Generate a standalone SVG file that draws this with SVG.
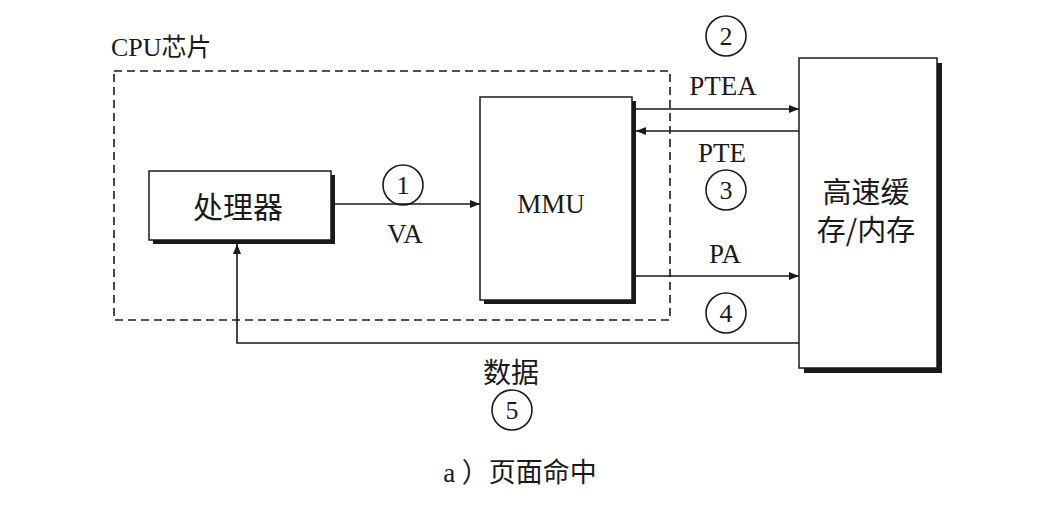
<svg xmlns="http://www.w3.org/2000/svg" width="1040" height="510" viewBox="0 0 1040 510">
<style>
.t{font-family:"Liberation Serif","Noto Sans CJK SC",serif;fill:#1a1a1a;text-anchor:middle}
.c{font-family:"Noto Sans CJK SC",sans-serif;fill:#1a1a1a;text-anchor:middle}
.box{fill:#fff;stroke:#1a1a1a;stroke-width:1.5}
.sh{fill:#1a1a1a}
.ln{fill:none;stroke:#1a1a1a;stroke-width:1.6}
.circ{fill:none;stroke:#1a1a1a;stroke-width:1.6}
</style>
<defs>
<marker id="ah" viewBox="0 0 10 8" refX="10" refY="4" markerWidth="10" markerHeight="8" markerUnits="userSpaceOnUse" orient="auto">
<path d="M0,0 L10,4 L0,8 Z" fill="#1a1a1a"/>
</marker>
</defs>
<rect width="1040" height="510" fill="#fff"/>
<g id="cpu-chip">
<rect x="114" y="71" width="556" height="249" fill="none" stroke="#1a1a1a" stroke-width="1.6" stroke-dasharray="8,5"/>
<text class="t" x="111" y="56" font-size="26" style="text-anchor:start">CPU<tspan font-family="Noto Sans CJK SC" font-size="25">芯片</tspan></text>
</g>
<g id="processor">
<rect class="sh" x="153" y="175" width="182" height="69"/>
<rect class="box" x="149" y="171" width="182" height="69"/>
<text class="c" x="238" y="218" font-size="30">处理器</text>
</g>
<g id="mmu">
<rect class="sh" x="484" y="101" width="152" height="203"/>
<rect class="box" x="480" y="97" width="152" height="203"/>
<text class="t" x="551" y="213" font-size="27">MMU</text>
</g>
<g id="memory">
<rect class="sh" x="804" y="63" width="138" height="310"/>
<rect class="box" x="799" y="58" width="138" height="310"/>
<text class="c" x="866" y="203" font-size="29">高速缓</text>
<text class="c" x="866" y="241" font-size="29">存/内存</text>
</g>
<g id="connectors">
<line class="ln" x1="331" y1="204" x2="480" y2="204" marker-end="url(#ah)"/>
<line class="ln" x1="636" y1="109" x2="799" y2="109" marker-end="url(#ah)"/>
<line class="ln" x1="799" y1="131" x2="636" y2="131" marker-end="url(#ah)"/>
<line class="ln" x1="636" y1="276" x2="799" y2="276" marker-end="url(#ah)"/>
<polyline class="ln" points="799,343 237,343 237,244" marker-end="url(#ah)"/>
</g>
<g id="labels">
<circle class="circ" cx="403" cy="185" r="20"/>
<text class="t" x="403" y="194" font-size="26">1</text>
<text class="t" x="405" y="243" font-size="27">VA</text>
<circle class="circ" cx="726" cy="36" r="20"/>
<text class="t" x="726" y="45" font-size="26">2</text>
<text class="t" x="723" y="95" font-size="27">PTEA</text>
<text class="t" x="722" y="162" font-size="27">PTE</text>
<circle class="circ" cx="726" cy="190" r="20"/>
<text class="t" x="726" y="199" font-size="26">3</text>
<text class="t" x="725" y="263" font-size="27">PA</text>
<circle class="circ" cx="726" cy="313" r="20"/>
<text class="t" x="726" y="322" font-size="26">4</text>
<text class="c" x="511" y="383" font-size="28">数据</text>
<circle class="circ" cx="512" cy="410" r="20"/>
<text class="t" x="512" y="419" font-size="26">5</text>
<text class="c" x="520" y="482" font-size="27"><tspan font-family="Liberation Serif">a </tspan>）页面命中</text>
</g>
</svg>
